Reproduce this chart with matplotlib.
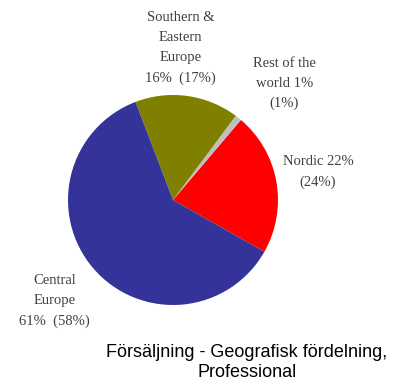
import matplotlib.pyplot as plt

labels = ['Nordic 22%\n(24%)', 'Rest of the\nworld 1%\n(1%)',
          'Southern &\nEastern\nEurope\n16%  (17%)', 'Central\nEurope\n61%  (58%)']
shares = [22, 1, 16, 61]
colors = ['#FF0000', '#C0C0C0', '#808000', '#333399']
label_pos = [(1.38, 0.27), (1.06, 1.11), (0.07, 1.45), (-1.13, -0.96)]
title = 'Försäljning - Geografisk fördelning,\nProfessional'

fig = plt.figure(figsize=(3.93, 3.78), dpi=100)
ax = fig.add_axes([68 / 393, 73 / 378, 210 / 393, 210 / 378])
ax.pie(shares, colors=colors, startangle=-29.5, counterclock=True,
       wedgeprops=dict(linewidth=0))
ax.set_aspect('equal')
ax.set_xlim(-1, 1)
ax.set_ylim(-1, 1)

for text, (x, y) in zip(labels, label_pos):
    ax.text(x, y, text, ha='center', va='center', fontsize=10.5,
            family='Liberation Serif', color='#404040', linespacing=1.7,
            clip_on=False)

fig.text(0.628, 0.041, title, ha='center', va='center', fontsize=13,
         family='Liberation Sans', color='black', linespacing=1.2)

fig.savefig('out.png', dpi=100)
